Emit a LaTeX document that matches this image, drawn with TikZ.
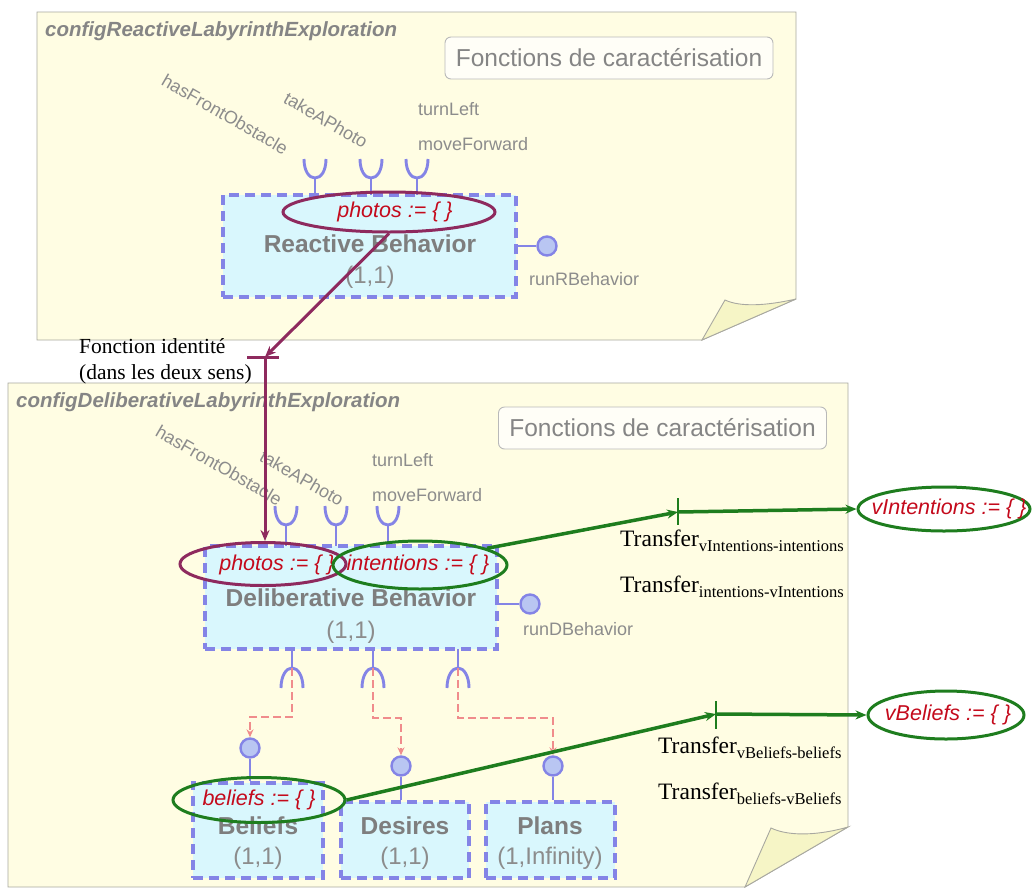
\documentclass[tikz,border=0pt]{standalone}
\usepackage{fontspec}
\setmainfont{Liberation Sans}
\newfontfamily\seriff{Liberation Serif}
\usetikzlibrary{shapes.geometric,arrows.meta}
\newcommand\myfs[1]{\fontsize{#1}{#1}\selectfont}
\newcommand\transf[1]{{\seriff\myfs{23.5}Transfer}{\seriff\myfs{16.5}\raisebox{-5.5pt}{#1}}}
\definecolor{panelbg}{HTML}{FFFDE3}
\definecolor{flapbg}{HTML}{F6F5C6}
\definecolor{panelborder}{HTML}{A8A8A0}
\definecolor{boxbg}{HTML}{D9F7FD}
\definecolor{boxline}{HTML}{8484E6}
\definecolor{txtgray}{HTML}{8C8C8C}
\definecolor{titlegray}{HTML}{858585}
\definecolor{purp}{HTML}{8E2A5E}
\definecolor{grn}{HTML}{1E7D1E}
\definecolor{redtxt}{HTML}{C40A1C}
\definecolor{pinkl}{HTML}{F08C8C}
\definecolor{lolfill}{HTML}{B9C6F2}
\begin{document}
\begin{tikzpicture}[x=1pt,y=-1pt,
 panel/.style={fill=panelbg,draw=panelborder,line width=0.9pt},
 flap/.style={fill=flapbg,draw=panelborder,line width=0.9pt},
 ttl/.style={inner sep=0,text=titlegray,font=\myfs{20.5}\bfseries\itshape},
 fcbox/.style={draw=gray!55,rounded corners=6pt,fill=white!70!panelbg,line width=0.9pt,minimum width=328pt,minimum height=42pt,text=titlegray,font=\myfs{24.5}},
 lbl/.style={text=txtgray,font=\myfs{18},inner sep=0},
 beh/.style={draw=boxline,line width=3.2pt,dash pattern=on 10pt off 6pt,fill=boxbg,inner sep=0},
 bname/.style={text=txtgray!90!black,font=\myfs{24.5}\bfseries,inner sep=0},
 mult/.style={text=txtgray,font=\myfs{24},inner sep=0},
 cup/.style={draw=boxline,line width=2.9pt},
 lolli/.style={circle,draw=boxline,fill=lolfill,line width=2.4pt,minimum size=19pt,inner sep=0},
 pe/.style={ellipse,draw=purp,line width=3pt,inner sep=0},
 ge/.style={ellipse,draw=grn,line width=3pt,inner sep=0},
 etxt/.style={inner sep=0,text=redtxt,font=\myfs{21.5}\itshape},
 parr/.style={draw=purp,line width=3pt,-{Stealth[length=11pt,width=9pt]}},
 garr/.style={draw=grn,line width=3.5pt,-{Stealth[length=11pt,width=9pt]}},
 tick/.style={draw=grn,line width=2.6pt},
 pdash/.style={draw=pinkl,line width=2.9pt,dash pattern=on 8pt off 4pt,-{Stealth[length=8pt,width=7pt]}},
 ser/.style={font=\seriff\myfs{21.5},inner sep=0}
]
\useasboundingbox (0,0) rectangle (1034,887);
% ---------- panels
\path[panel] (37,12) -- (796,12) -- (796,299) -- (702,340) -- (37,340) -- cycle;
\path[flap] (725,300) .. controls (740,307) and (765,306) .. (796,299) -- (702,340) -- cycle;
\path[panel] (8,383) -- (848,383) -- (848,827) -- (745,887) -- (8,887) -- cycle;
\path[flap] (771,828) .. controls (790,837) and (820,835) .. (848,827) -- (745,887) -- cycle;
% ---------- titles
\node[ttl,anchor=base west] (t1) at (45,36) {configReactiveLabyrinthExploration};
\node[ttl,anchor=base west] (t2) at (16,407) {configDeliberativeLabyrinthExploration};
\node[fcbox] (fc1) at (609,58) {Fonctions de caractérisation};
\node[fcbox] (fc2) at (662.5,428) {Fonctions de caractérisation};
% ---------- top labels
\node[lbl,rotate=-30] (hf1) at (225,114) {hasFrontObstacle};
\node[lbl,rotate=-30] (tp1) at (326,120) {takeAPhoto};
\node[lbl,anchor=base west] (tl1) at (418,115) {turnLeft};
\node[lbl,anchor=base west] (mf1) at (418,150) {moveForward};
% ---------- reactive behavior
\node[beh,minimum width=293pt,minimum height=102pt] (rbox) at (369.5,246) {};
\node[bname] (rbn) at (370,244) {Reactive Behavior};
\node[mult] (rbm) at (370,277) {(1,1)};
\foreach \x in {315,371,417}{
  \draw[cup] (\x-11,159) .. controls (\x-11,171) and (\x-6,178) .. (\x,178) .. controls (\x+6,178) and (\x+11,171) .. (\x+11,159);
  \draw[cup] (\x,178) -- (\x,195);
}
\node[lolli] (lr) at (547,246) {};
\draw[cup] (rbox.east) -- (lr);
\node[lbl,anchor=base west] (rrb) at (529,285) {runRBehavior};
% ---------- bottom labels
\node[lbl,rotate=-30] (hf2) at (219,465) {hasFrontObstacle};
\node[lbl,rotate=-30] (tp2) at (302,478) {takeAPhoto};
\node[lbl,anchor=base west] (tl2) at (372,466) {turnLeft};
\node[lbl,anchor=base west] (mf2) at (372,501) {moveForward};
% ---------- deliberative behavior
\node[beh,minimum width=292pt,minimum height=103pt] (dbox) at (351,597.5) {};
\node[bname] (dbn) at (351,598) {Deliberative Behavior};
\node[mult] (dbm) at (351,632) {(1,1)};
\foreach \x in {286,336,388}{
  \draw[cup] (\x-11,506) .. controls (\x-11,518) and (\x-6,525) .. (\x,525) .. controls (\x+6,525) and (\x+11,518) .. (\x+11,506);
  \draw[cup] (\x,525) -- (\x,546);
}
\node[lolli] (ld) at (530,604) {};
\draw[cup] (dbox.east |- ld) -- (ld);
\node[lbl,anchor=base west] (rdb) at (523,635) {runDBehavior};
% lower sockets
\foreach \x in {292,373,458}{
  \draw[cup] (\x,649) -- (\x,668);
  \draw[cup] (\x-11,688) .. controls (\x-11,676) and (\x-6,668) .. (\x,668) .. controls (\x+6,668) and (\x+11,676) .. (\x+11,688);
}
\coordinate (s1) at (292,668);
\coordinate (s2) at (373,668);
\coordinate (s3) at (458,668);
% ---------- parts
\node[beh,minimum width=130pt,minimum height=95pt] (bbox) at (258,830.5) {};
\node[beh,minimum width=128pt,minimum height=76pt] (dsbox) at (405,840) {};
\node[beh,minimum width=129pt,minimum height=76pt] (pbox) at (550.5,840) {};
\node[bname] (bbn) at (258,826) {Beliefs};
\node[mult] (bbm) at (258,858) {(1,1)};
\node[bname] (dsn) at (405,826) {Desires};
\node[mult] (dsm) at (405,858) {(1,1)};
\node[bname] (pn) at (550,826) {Plans};
\node[mult] (pm) at (550,858) {(1,Infinity)};
\node[lolli] (bc) at (250,748) {};
\node[lolli] (dc) at (401,766) {};
\node[lolli] (pc) at (553,766) {};
\draw[cup] (bc) -- (bc |- bbox.north);
\draw[cup] (dc) -- (dc |- dsbox.north);
\draw[cup] (pc) -- (pc |- pbox.north);
\draw[pdash] (s1) -- (292,717) -| (bc.north);
\draw[pdash] (s2) -- (373,718) -| (dc.north);
\draw[pdash] (s3) -- (458,718) -| (pc.north);
% ---------- ellipses
\node[pe,minimum width=212pt,minimum height=40pt] (phR) at (389,212) {};
\node[etxt] at (395,212) {photos := \{ \}};
\node[pe,minimum width=166pt,minimum height=43pt] (phD) at (263,564) {};
\node[etxt] at (277,565) {photos := \{ \}};
\node[ge,minimum width=174pt,minimum height=48pt] (intD) at (420,565) {};
\node[etxt] at (418,565) {intentions := \{ \}};
\node[ge,minimum width=172pt,minimum height=44pt] (vint) at (944,509) {};
\node[etxt] at (949,509) {vIntentions := \{ \}};
\node[ge,minimum width=172pt,minimum height=45pt] (bel) at (259,800) {};
\node[etxt] at (259,800) {beliefs := \{ \}};
\node[ge,minimum width=156pt,minimum height=48pt] (vbel) at (946,715) {};
\node[etxt] at (948,715) {vBeliefs := \{ \}};
% ---------- identity function
\node[ser,anchor=base west] (fi1) at (79,353) {Fonction identité};
\node[ser,anchor=base west] (fi2) at (79,379) {(dans les deux sens)};
\coordinate (fid) at (265,357);
\draw[parr] (phR.south) -- (fid);
\draw[draw=purp,line width=3pt] ([xshift=-18pt]fid) -- ([xshift=14pt]fid);
\draw[parr] (fid) -- (fid |- phD.north);
% ---------- transfers
\coordinate (ta) at (678,512);
\draw[garr] (intD.14) -- (ta);
\draw[tick] ([yshift=14pt]ta) -- ([yshift=-13pt]ta);
\draw[garr] (ta) -- (vint.west);
\node[anchor=base west,inner sep=0] (tr1) at (620,546) {\transf{vIntentions-intentions}};
\node[anchor=base west,inner sep=0] (tr2) at (620,592) {\transf{intentions-vIntentions}};
\coordinate (tb) at (716,714);
\draw[garr] (bel.east) -- (tb);
\draw[tick] ([yshift=13pt]tb) -- ([yshift=-15pt]tb);
\draw[garr] (tb) -- (vbel.west);
\node[anchor=base west,inner sep=0] (tr3) at (658,753) {\transf{vBeliefs-beliefs}};
\node[anchor=base west,inner sep=0] (tr4) at (658,799) {\transf{beliefs-vBeliefs}};
\end{tikzpicture}
\end{document}
